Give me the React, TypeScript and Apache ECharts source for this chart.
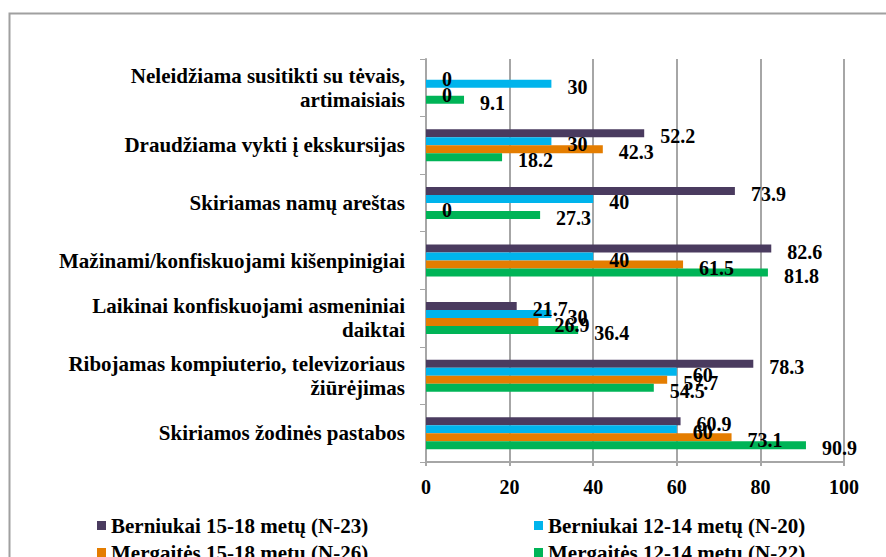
import React, { useEffect, useRef } from "react";
import * as echarts from "echarts";

const categories = [
  "Neleidžiama susitikti su tėvais,\nartimaisiais",
  "Draudžiama vykti į ekskursijas",
  "Skiriamas namų areštas",
  "Mažinami/konfiskuojami kišenpinigiai",
  "Laikinai konfiskuojami asmeniniai\ndaiktai",
  "Ribojamas kompiuterio, televizoriaus\nžiūrėjimas",
  "Skiriamos žodinės pastabos",
];

const seriesNames = [
  "Berniukai 15-18 metų (N-23)",
  "Berniukai 12-14 metų (N-20)",
  "Mergaitės 15-18 metų (N-26)",
  "Mergaitės 12-14 metų (N-22)",
];

const boys1518 = [0, 52.2, 73.9, 82.6, 21.7, 78.3, 60.9];
const boys1214 = [30, 30, 40, 40, 30, 60, 60];
const girls1518 = [0, 42.3, 0, 61.5, 26.9, 57.7, 73.1];
const girls1214 = [9.1, 18.2, 27.3, 81.8, 36.4, 54.5, 90.9];

const colors = ["#4a3b5f", "#00b4ec", "#e47d00", "#00b457"];
const xTicks = [0, 20, 40, 60, 80, 100];

const FONT = "'Liberation Serif', 'Times New Roman', serif";

const legendPos = [
  { left: 97, top: 515 },
  { left: 534, top: 515 },
  { left: 97, top: 542 },
  { left: 534, top: 542 },
];

export default function App() {
  const ref = useRef<HTMLDivElement>(null);
  useEffect(() => {
    document.body.style.margin = "0";
    if (!ref.current) return;
    const chart = echarts.init(ref.current, undefined, { renderer: "svg" });
    const values = [boys1518, boys1214, girls1518, girls1214];
    chart.setOption({
      animation: false,
      backgroundColor: "#ffffff",
      grid: { left: 426, right: 42, top: 59, bottom: 95 },
      xAxis: {
        type: "value",
        min: xTicks[0],
        max: xTicks[xTicks.length - 1],
        interval: 20,
        axisLine: { show: true, lineStyle: { color: "#a6a6a6", width: 2 } },
        axisTick: { show: true, length: 4, lineStyle: { color: "#a6a6a6", width: 2 } },
        axisLabel: {
          color: "#000",
          fontFamily: FONT,
          fontWeight: "bold",
          fontSize: 20,
          margin: 15,
        },
        splitLine: { show: true, lineStyle: { color: "#a6a6a6", width: 2 } },
      },
      yAxis: {
        type: "category",
        data: categories,
        inverse: true,
        axisLine: { show: true, lineStyle: { color: "#a6a6a6", width: 2 } },
        axisTick: { show: true, length: 6, lineStyle: { color: "#a6a6a6", width: 1 } },
        axisLabel: {
          color: "#000",
          fontFamily: FONT,
          fontWeight: "bold",
          fontSize: 21,
          margin: 21,
          lineHeight: 24,
          align: "right",
        },
      },
      legend: seriesNames.map((name, i) => ({
        orient: "horizontal",
        left: legendPos[i].left,
        top: legendPos[i].top,
        itemWidth: 9,
        itemHeight: 9,
        itemGap: 5,
        icon: "rect",
        padding: 0,
        data: [name],
        textStyle: { color: "#000", fontFamily: FONT, fontWeight: "bold", fontSize: 21 },
      })),
      graphic: [
        {
          type: "polyline",
          shape: { points: [[9.5, 557], [9.5, 13.5], [886, 13.5]] },
          style: { stroke: "#a0a0a0", lineWidth: 2, fill: "none" },
          silent: true,
        },
      ],
      series: seriesNames.map((name, i) => ({
        name,
        type: "bar",
        data: values[i],
        barWidth: 8,
        barGap: "0%",
        itemStyle: { color: colors[i] },
        label: {
          show: true,
          position: "right",
          distance: 16,
          offset: [0, 3],
          color: "#000",
          fontFamily: FONT,
          fontWeight: "bold",
          fontSize: 20,
        },
      })),
    });
    return () => chart.dispose();
  }, []);
  return <div ref={ref} style={{ width: 886, height: 557 }} />;
}
